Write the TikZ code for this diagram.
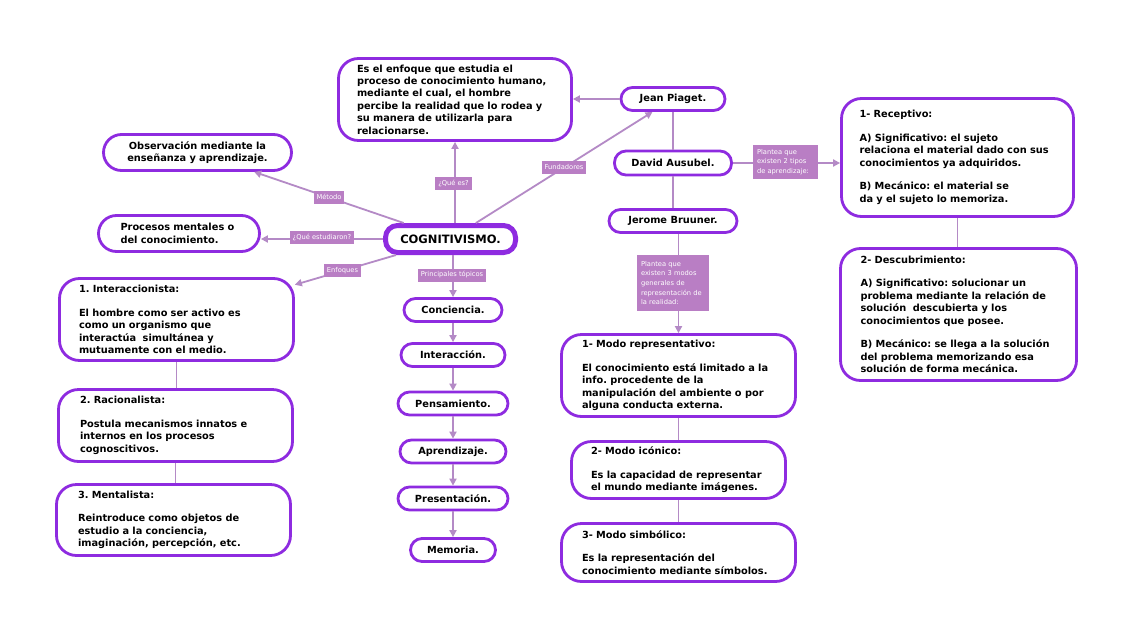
\documentclass[tikz,border=0pt]{standalone}
\usepackage{fontspec}
\setmainfont{DejaVu Sans}
\usetikzlibrary{arrows.meta}
\definecolor{bord}{HTML}{8E2BE0}
\definecolor{lncol}{HTML}{B48AC6}
\definecolor{labf}{HTML}{B97EC4}
\frenchspacing
\begin{document}
\frenchspacing
\begin{tikzpicture}[x=1pt,y=-1pt,
  bigbox/.style={draw=bord, line width=2.8pt, fill=white, rounded corners=20pt,
    font=\fontsize{9.8}{12.5}\selectfont\bfseries, align=left, inner ysep=0pt},
  pill/.style={draw=bord, line width=2.8pt, fill=white, rounded corners=11.5pt,
    font=\fontsize{9.8}{12}\selectfont\bfseries, minimum height=23pt, inner sep=0pt, align=center},
  lab/.style={fill=labf, text=white, font=\fontsize{6.7}{8}\selectfont, inner xsep=3pt,
    inner ysep=0pt, minimum height=13pt},
  mlab/.style={fill=labf, text=white, align=left, inner xsep=4pt, inner ysep=0pt},
  conn/.style={draw=lncol, line width=1.8pt},
  arr/.style={conn, -{Triangle[length=7pt,width=7pt]}},
]
\fill[white] (0,0) rectangle (1132,640);
\useasboundingbox (0,0) rectangle (1132,640);

% central
\node[draw=bord, line width=5pt, fill=white, rounded corners=12pt, minimum width=130pt,
  minimum height=27pt, inner sep=0pt, font=\fontsize{11.5}{13}\selectfont\bfseries]
  (cog) at (450.5,239) {COGNITIVISMO.};

% top definition
\node[bigbox, font=\fontsize{9.8}{12.4}\selectfont\bfseries, text width=196pt, inner xsep=18.5pt,
  minimum height=82pt] (top) at (455,99.5)
 {Es el enfoque que estudia el\\proceso de conocimiento humano,\\mediante el cual, el hombre\\percibe la realidad que lo rodea y\\su manera de utilizarla para\\relacionarse.};

% left
\node[bigbox, rounded corners=18pt, align=center, text width=172pt, inner xsep=8pt,
  minimum height=36pt] (obs) at (197.5,152.5)
 {Observación mediante la\\enseñanza y aprendizaje.};
\node[bigbox, rounded corners=18pt, text width=117pt, inner xsep=22pt,
  minimum height=36pt] (proc) at (179,233.5)
 {Procesos mentales o\\del conocimiento.};
\node[bigbox, text width=195pt, inner xsep=19.5pt, minimum height=82pt] (inter) at (176.5,319.5)
 {1. Interaccionista:\\[11pt]El hombre como ser activo es\\como un organismo que\\interactúa\ \ simultánea y\\mutuamente con el medio.};
\node[bigbox, text width=191pt, inner xsep=21.5pt, minimum height=72pt] (rac) at (175.5,425.5)
 {2. Racionalista:\\[11pt]Postula mecanismos innatos e\\internos en los procesos\\cognoscitivos.};
\node[bigbox, text width=191pt, inner xsep=21.5pt, minimum height=71pt] (men) at (173.5,520)
 {3. Mentalista:\\[11pt]Reintroduce como objetos de\\estudio a la conciencia,\\imaginación, percepción, etc.};

% middle column
\node[pill, minimum width=98pt] (con) at (453,310) {Conciencia.};
\node[pill, minimum width=104pt] (int) at (453,355) {Interacción.};
\node[pill, minimum width=110pt] (pen) at (453,403.5) {Pensamiento.};
\node[pill, minimum width=106pt] (apr) at (453,451.5) {Aprendizaje.};
\node[pill, minimum width=110pt] (pre) at (453,498.5) {Presentación.};
\node[pill, minimum width=85pt] (mem) at (453,550) {Memoria.};

% founders
\node[pill, minimum width=104pt] (pia) at (673,99) {Jean Piaget.};
\node[pill, minimum width=117pt, minimum height=24pt] (dav) at (673,163) {David Ausubel.};
\node[pill, minimum width=128pt] (jer) at (673,221) {Jerome Bruuner.};

% right
\node[bigbox, text width=196pt, inner xsep=18pt, minimum height=118pt] (rec) at (957.5,157.5)
 {1- Receptivo:\\[11pt]A) Significativo: el sujeto\\relaciona el material dado con sus\\conocimientos ya adquiridos.\\[11pt]B) Mecánico: el material se\\da y el sujeto lo memoriza.};
\node[bigbox, text width=196pt, inner xsep=20pt, minimum height=132pt] (desc) at (958.5,314.5)
 {2- Descubrimiento:\\[11pt]A) Significativo: solucionar un\\problema mediante la relación de\\solución\ \ descubierta y los\\conocimientos que posee.\\[11pt]B) Mecánico: se llega a la solución\\del problema memorizando esa\\solución de forma mecánica.};

% modes
\node[bigbox, text width=193pt, inner xsep=20.5pt, minimum height=82pt] (rep) at (678.5,375.5)
 {1- Modo representativo:\\[11pt]El conocimiento está limitado a la\\info. procedente de la\\manipulación del ambiente o por\\alguna conducta externa.};
\node[bigbox, text width=175pt, inner xsep=19.5pt, minimum height=57pt] (ico) at (678.5,470)
 {2- Modo icónico:\\[11pt]Es la capacidad de representar\\el mundo mediante imágenes.};
\node[bigbox, text width=193pt, inner xsep=20.5pt, minimum height=58pt] (sim) at (678.5,552.5)
 {3- Modo simbólico:\\[11pt]Es la representación del\\conocimiento mediante símbolos.};

% connectors
\draw[arr] (cog) -- (obs);
\draw[arr] (cog.west) -- (cog.west -| proc.east);
\draw[arr] (cog) -- (inter);
\draw[arr] (top.south |- cog.north) -- (top.south);
\draw[arr] (cog) -- (pia);
\draw[arr] (con.north |- cog.south) -- (con.north);
\draw[arr] (con) -- (int);
\draw[arr] (int) -- (pen);
\draw[arr] (pen) -- (apr);
\draw[arr] (apr) -- (pre);
\draw[arr] (pre) -- (mem);
\draw[conn] (inter.south) -- (inter.south |- rac.north);
\draw[conn] (rac.south) -- (rac.south |- men.north);
\draw[arr] (pia.west) -- (pia.west -| top.east);
\draw[conn] (pia) -- (dav);
\draw[conn] (dav) -- (jer);
\draw[arr] (dav.east) -- (dav.east -| rec.west);
\draw[conn] (rec.south) -- (rec.south |- desc.north);
\draw[arr] (rep.north |- jer.south) -- (rep.north);
\draw[conn] (rep.south) -- (rep.south |- ico.north);
\draw[conn] (ico.south) -- (ico.south |- sim.north);

% labels
\node[lab] (lmet) at (329,197) {Método};
\node[lab] (lque) at (453.5,183.5) {¿Qué es?};
\node[lab] (lest) at (322,237) {¿Qué estudiaron?};
\node[lab] (lenf) at (342.5,270.5) {Enfoques};
\node[lab] (ltop) at (452,275) {Principales tópicos};
\node[lab] (lfun) at (564,167) {Fundadores};
\node[mlab, font=\fontsize{6.7}{9.2}\selectfont, text width=57pt, minimum height=34pt] (lab2) at (785.5,162)
 {Plantea que\\existen 2 tipos\\de aprendizaje:};
\node[mlab, font=\fontsize{6.7}{9.7}\selectfont, text width=64pt, minimum height=56pt] (lab3) at (673,283)
 {Plantea que\\existen 3 modos\\generales de\\representación de\\la realidad:};
\end{tikzpicture}
\end{document}
